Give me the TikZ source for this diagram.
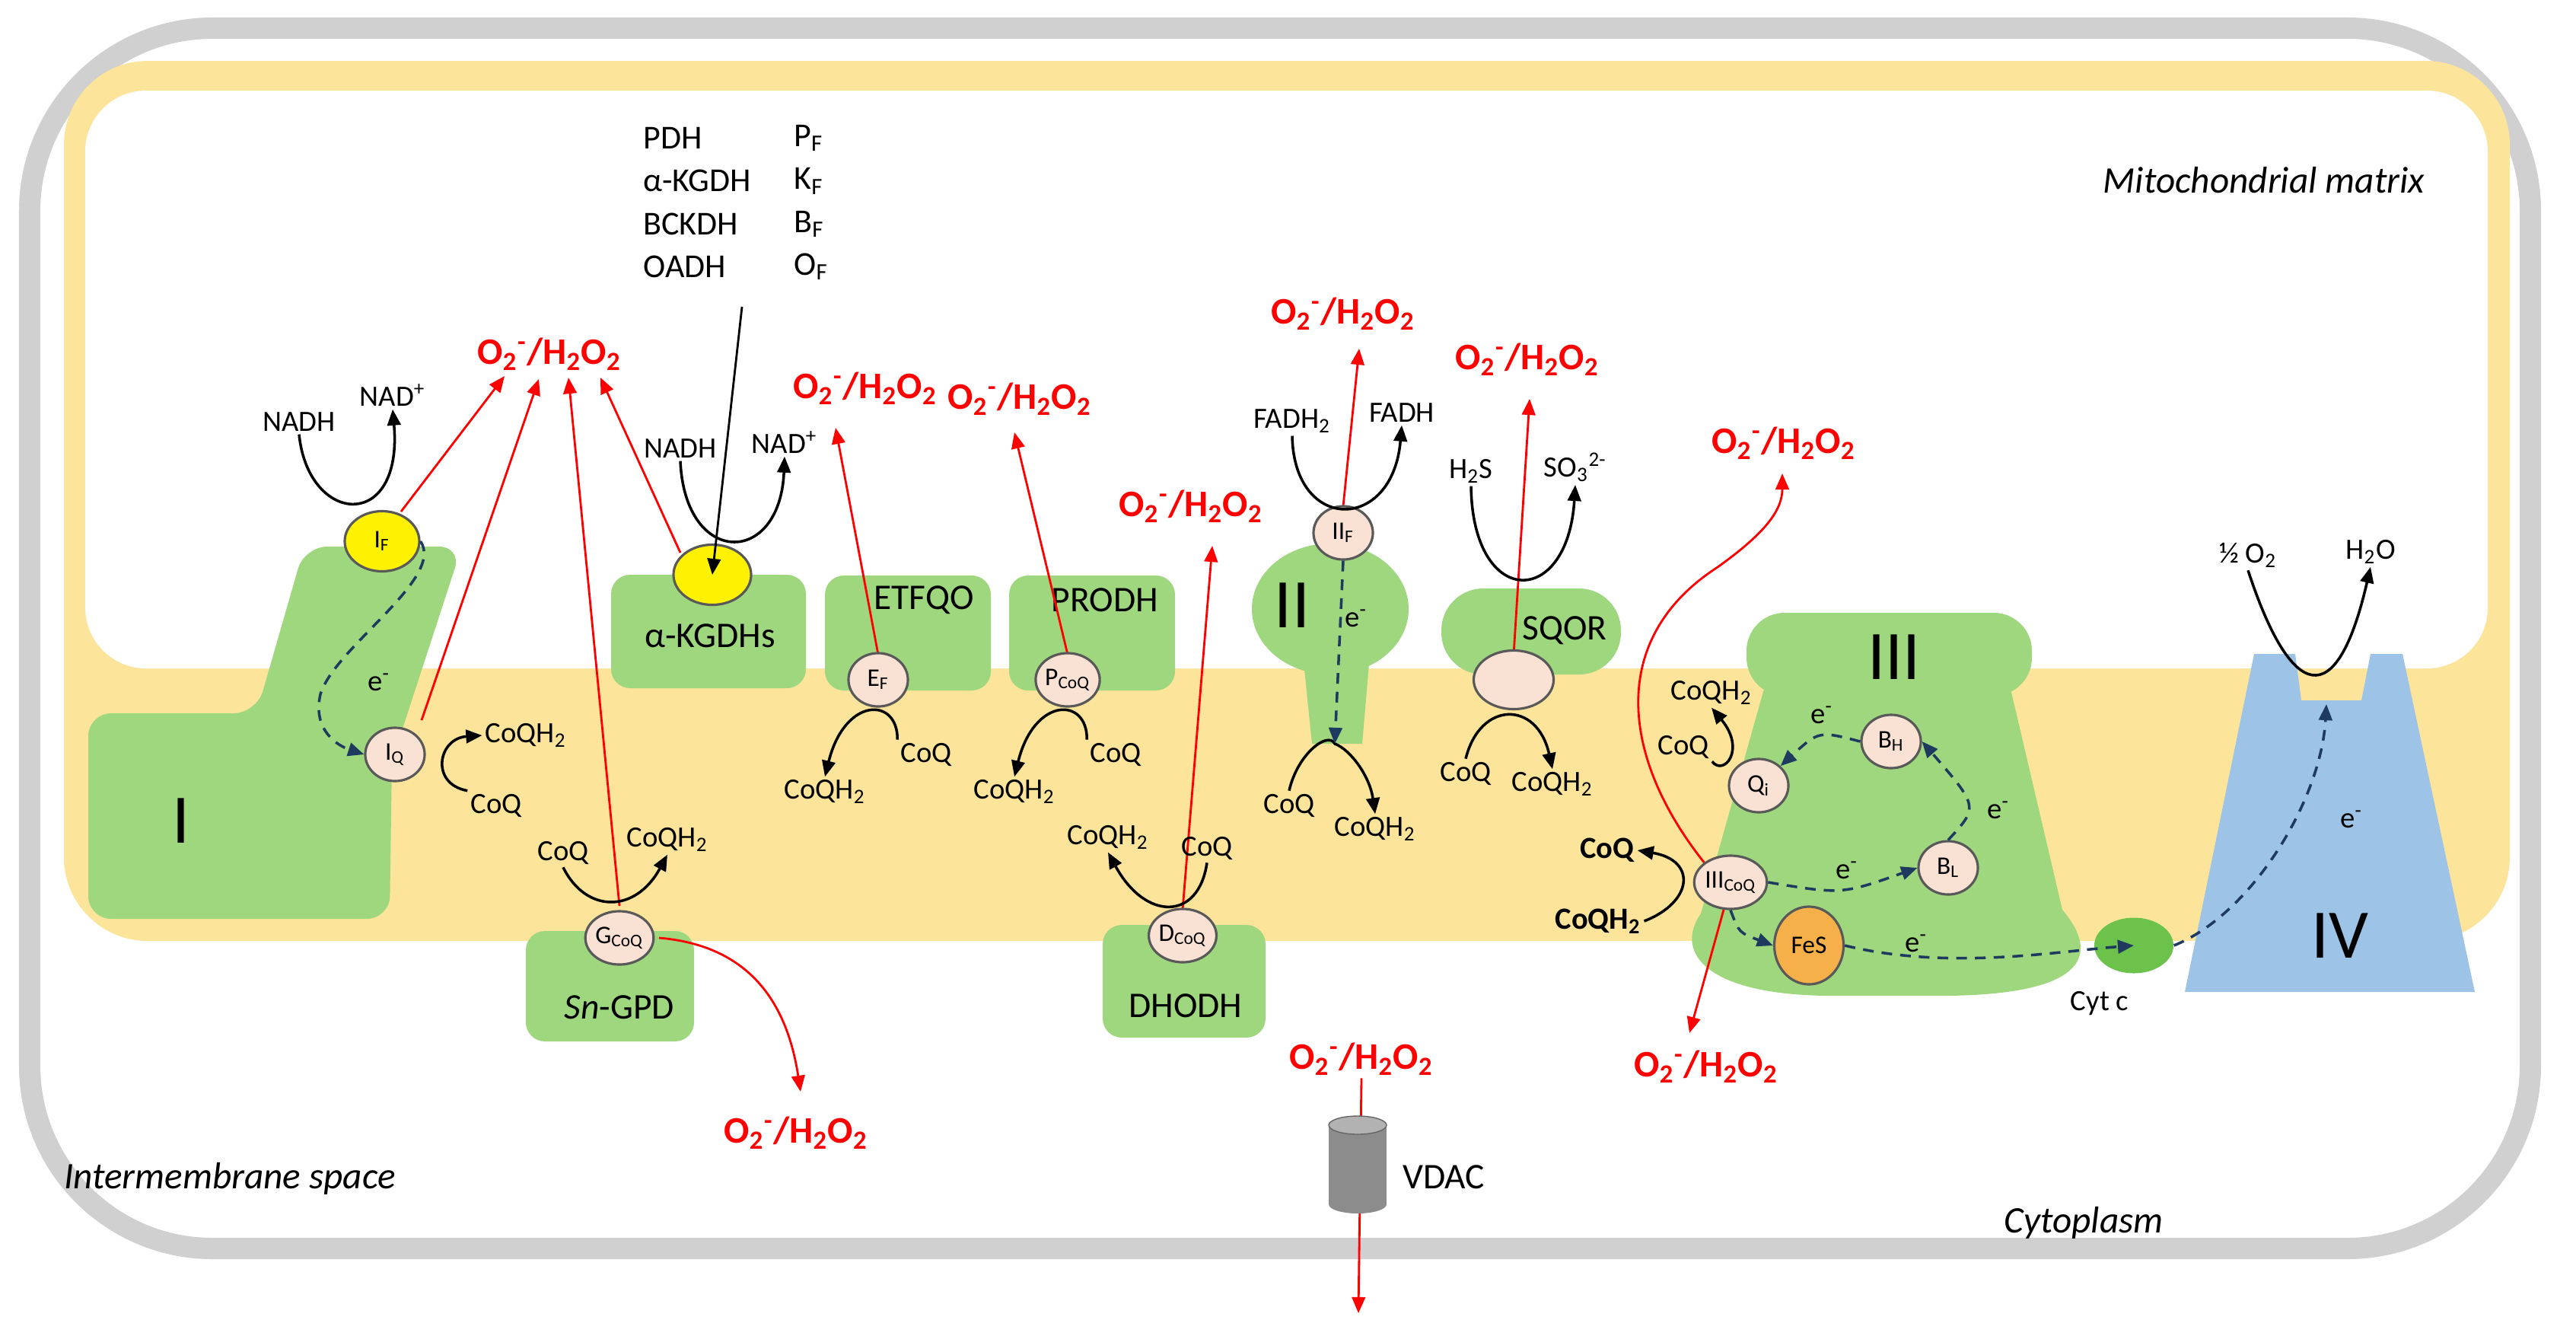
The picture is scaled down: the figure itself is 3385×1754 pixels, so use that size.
\documentclass[tikz,border=0pt]{standalone}
\usepackage{fontspec}
\setmainfont{Carlito}
\usetikzlibrary{shapes.geometric,arrows.meta,calc}
\definecolor{grn}{HTML}{9FD77F}
\definecolor{ylw}{HTML}{FDE49B}
\definecolor{gbrd}{HTML}{D0D0D0}
\definecolor{pnk}{HTML}{F9E1D3}
\definecolor{blu}{HTML}{9DC3E6}
\definecolor{org}{HTML}{F5B04A}
\definecolor{cyt}{HTML}{6DC24B}
\definecolor{dsh}{HTML}{1F3A5F}
\newcommand{\ros}{O\textsubscript{2}\textsuperscript{-}/H\textsubscript{2}O\textsubscript{2}}
\newcommand{\qh}{CoQH\textsubscript{2}}
\newcommand{\el}{e\textsuperscript{-}}
\begin{document}
\begin{tikzpicture}[x=0.01cm,y=-0.01cm,
 site/.style={ellipse,draw=black!65,fill=pnk,line width=0.9pt,minimum width=0.78cm,minimum height=0.7cm,inner sep=0pt,font=\fontsize{9.5}{10}\selectfont},
 ysite/.style={site,fill=yellow,minimum width=0.98cm,minimum height=0.79cm},
 lab/.style={font=\fontsize{11}{13}\selectfont,inner sep=1pt},
 blab/.style={font=\fontsize{11.5}{13}\selectfont\bfseries,inner sep=1pt},
 mid/.style={font=\fontsize{13.5}{15}\selectfont,inner sep=1pt},
 reg/.style={font=\fontsize{14}{16}\selectfont\itshape},
 num/.style={font=\fontsize{26}{28}\selectfont},
 rosn/.style={text=red,font=\fontsize{14}{16}\selectfont\bfseries,inner sep=1pt},
 barr/.style={line width=1pt,-{Triangle[length=6pt,width=5pt]}},
 rarr/.style={red,line width=0.8pt,-{Triangle[length=6pt,width=5pt]}},
 darr/.style={dsh,line width=1pt,dash pattern=on 4pt off 3pt,-{Triangle[length=6pt,width=5pt]}}]
\useasboundingbox (0,0) rectangle (3385,1754);
% compartments
\draw[gbrd,line width=0.28cm,rounded corners=2.4cm] (39,37) rectangle (3325,1640);
\fill[ylw,rounded corners=1.1cm] (84,80) rectangle (3298,1236);
\fill[white,rounded corners=0.8cm] (112,119) rectangle (3269,878);
\node[reg] (mm) at (2975,237) {Mitochondrial matrix};
\node[reg] (ims) at (302,1548) {Intermembrane space};
\node[reg] (cyto) at (2738,1606) {Cytoplasm};
% complex I
\fill[grn,rounded corners=0.3cm] (116,937) -- (337,937) -- (400,718) -- (607,718) -- (515,1000) -- (512,1207) -- (116,1207) -- cycle;
\node[num] (cI) at (238,1078) {I};
% alpha-KGDHs
\fill[grn,rounded corners=0.25cm] (803,755) rectangle (1059,904);
\node[mid] (akt) at (933,835) {α-KGDHs};
% ETFQO, PRODH
\fill[grn,rounded corners=0.25cm] (1084,756) rectangle (1302,907);
\node[mid] (etft) at (1214,788) {ETFQO};
\fill[grn,rounded corners=0.25cm] (1326,756) rectangle (1544,907);
\node[mid] (prot) at (1452,788) {PRODH};
% Sn-GPD, DHODH
\fill[grn,rounded corners=0.25cm] (691,1223) rectangle (912,1368);
\node[mid] (gpdt) at (814,1323) {\textit{Sn}-GPD};
\fill[grn,rounded corners=0.25cm] (1449,1215) rectangle (1663,1363);
\node[mid] (dhot) at (1558,1321) {DHODH};
% II
\fill[grn] (1748,800) ellipse (103 and 86);
\fill[grn] (1712,860) -- (1800,860) -- (1790,977) -- (1724,977) -- cycle;
\node[num] (cII) at (1698,795) {II};
% SQOR
\fill[grn,rounded corners=0.55cm] (1894,773) rectangle (2130,886);
\node[mid] (sqt) at (2056,828) {SQOR};
% III
\fill[grn,rounded corners=0.5cm] (2295,805) rectangle (2670,914);
\fill[grn] (2318,905) -- (2642,905) -- (2710,1195) .. controls (2765,1260) and (2730,1306) .. (2560,1308) -- (2400,1308) .. controls (2240,1306) and (2200,1250) .. (2235,1200) -- cycle;
\node[num] (cIII) at (2489,863) {III};
% IV
\fill[blu] (2962,859) -- (3016,859) -- (3024,920) -- (3103,920) -- (3115,859) -- (3157,859) -- (3252,1303) -- (2871,1303) -- cycle;
\node[num] (cIV) at (3075,1229) {IV};
\coordinate (notch) at (3057,925);
% Cyt c
\node[ellipse,fill=cyt,minimum width=1.04cm,minimum height=0.73cm] (cytc) at (2804,1242) {};
\node[lab] (cytt) at (2759,1318) {Cyt c};
% PDH list
\node[font=\fontsize{12.5}{14}\selectfont,anchor=west,align=left] (lst) at (833,266) {PDH\\[2pt] α-KGDH\\[2pt] BCKDH\\[2pt] OADH};
\node[font=\fontsize{12.5}{14}\selectfont,anchor=west,align=left] (lst2) at (1031,266) {P\textsubscript{F}\\[2pt] K\textsubscript{F}\\[2pt] B\textsubscript{F}\\[2pt] O\textsubscript{F}};
\coordinate (lstb) at (975,403);
% ROS labels
\node[rosn] (ros1) at (722,465) {\ros};
\node[rosn] (ros2) at (1137,510) {\ros};
\node[rosn] (ros3) at (1340,524) {\ros};
\node[rosn] (ros4) at (1565,665) {\ros};
\node[rosn] (ros5) at (1765,412) {\ros};
\node[rosn] (ros6) at (2007,472) {\ros};
\node[rosn] (ros7) at (2344,582) {\ros};
\node[rosn] (ros8) at (1046,1488) {\ros};
\node[rosn] (ros9) at (2242,1401) {\ros};
\node[rosn] (ros10) at (1789,1391) {\ros};
% red arrows (under sites)
\draw[rarr] (527,672) -- (663,494);
\draw[rarr] (554,946) -- (708,498);
\draw[rarr] (814,1190) -- (747,496);
\draw[rarr] (894,726) -- (789,496);
\draw[rarr] (1154,860) -- (1098,562);
\draw[rarr] (1403,860) -- (1333,568);
\draw[rarr] (1554,1195) -- (1593,717);
\draw[rarr] (1765,665) -- (1786,458);
\draw[rarr] (1989,860) -- (2010,524);
\draw[rarr] (2245,1140) .. controls (2130,1000) and (2110,840) .. (2257,745) .. controls (2320,700) and (2342,670) .. (2342,622);
\draw[rarr] (2265,1195) -- (2220,1357);
\draw[rarr] (866,1232) .. controls (960,1240) and (1030,1290) .. (1052,1434);
\draw[rarr] (ros10.south) -- (1785,1725);
% VDAC
\fill[black!45] (1746,1478) rectangle (1822,1582);
\fill[black!45] (1784,1582) ellipse (38 and 12);
\draw[black!60,fill=black!30] (1784,1478) ellipse (38 and 12);
\node[mid] (vdac) at (1897,1546) {VDAC};
% sites
\node[ysite] (IF) at (502,711) {I\textsubscript{F}};
\node[site] (IQ) at (519,991) {I\textsubscript{Q}};
\node[site] (GQ) at (814,1232) {G\textsubscript{CoQ}};
\node[ysite,minimum width=1.02cm] (AK) at (936,755) {};
\node[site] (EF) at (1154,893) {E\textsubscript{F}};
\node[site] (PQ) at (1403,893) {P\textsubscript{CoQ}};
\node[site] (DQ) at (1554,1229) {D\textsubscript{CoQ}};
\node[site] (IIF) at (1765,700) {II\textsubscript{F}};
\node[site,minimum width=1.05cm,minimum height=0.77cm] (SQ) at (1989,893) {};
\node[site] (Qi) at (2311,1032) {Q\textsubscript{i}};
\node[site] (BH) at (2485,974) {B\textsubscript{H}};
\node[site] (BL) at (2560,1140) {B\textsubscript{L}};
\node[site,minimum width=0.88cm] (IIIQ) at (2274,1159) {III\textsubscript{CoQ}};
\node[site,fill=org,minimum width=0.91cm,minimum height=1.02cm] (FeS) at (2377,1242) {FeS};
% black PDH arrow
\draw[barr,line width=0.8pt] (lstb) -- (AK.center);
% substrate labels
\node[lab] (nadh1) at (393,554) {NADH};
\node[lab] (nad1) at (516,519) {NAD\textsuperscript{+}};
\node[lab] (nadh2) at (894,589) {NADH};
\node[lab] (nad2) at (1031,581) {NAD\textsuperscript{+}};
\node[lab] (cqhI) at (691,966) {\qh};
\node[lab] (cqI) at (652,1058) {CoQ};
\node[lab] (cqG) at (740,1120) {CoQ};
\node[lab] (cqhG) at (877,1103) {\qh};
\node[lab] (cqE) at (1217,991) {CoQ};
\node[lab] (cqhE) at (1084,1040) {\qh};
\node[lab] (cqP) at (1466,991) {CoQ};
\node[lab] (cqhP) at (1333,1040) {\qh};
\node[lab] (cqhD) at (1456,1100) {\qh};
\node[lab] (cqD) at (1586,1114) {CoQ};
\node[lab] (fadh2) at (1698,553) {FADH\textsubscript{2}};
\node[lab] (fadh) at (1842,542) {FADH};
\node[lab] (cqII) at (1694,1058) {CoQ};
\node[lab] (cqhII) at (1807,1089) {\qh};
\node[lab] (h2s) at (1933,619) {H\textsubscript{2}S};
\node[lab] (so3) at (2070,614) {SO\textsubscript{3}\textsuperscript{2-}};
\node[lab] (cqS) at (1926,1016) {CoQ};
\node[lab] (cqhS) at (2040,1030) {\qh};
\node[lab] (cqhQi) at (2249,910) {\qh};
\node[lab] (cqQi) at (2212,981) {CoQ};
\node[blab] (cq3) at (2112,1117) {CoQ};
\node[blab] (cqh3) at (2100,1210) {\qh};
\node[lab] (o2) at (2954,729) {½ O\textsubscript{2}};
\node[lab] (h2o) at (3115,725) {H\textsubscript{2}O};
% electron labels
\node[lab] (e1) at (498,896) {\el};
\node[lab] (e2) at (1782,812) {\el};
\node[lab] (e3) at (2394,939) {\el};
\node[lab] (e4) at (2427,1143) {\el};
\node[lab] (e5) at (2626,1064) {\el};
\node[lab] (e6) at (2518,1239) {\el};
\node[lab] (e7) at (3090,1076) {\el};
% black reaction arcs
\draw[barr] (nadh1.south) .. controls (405,690) and (530,700) .. (nad1.south);
\draw[barr] (nadh2.south) .. controls (900,745) and (1025,745) .. (nad2.south);
\draw[barr] (cqI.north west) .. controls (565,1030) and (575,970) .. (cqhI.west);
\draw[barr] (cqG.south) .. controls (770,1200) and (835,1200) .. (cqhG.south);
\draw[barr] (cqE.north west) .. controls (1180,915) and (1110,915) .. (cqhE.north);
\draw[barr] (cqP.north west) .. controls (1429,915) and (1359,915) .. (cqhP.north);
\draw[barr] (cqD.south) .. controls (1575,1210) and (1505,1210) .. (cqhD.south);
\coordinate (IIa) at (1754,977);
\draw[barr] (cqII.north) .. controls (1705,990) and (1745,960) .. (IIa) .. controls (1775,985) and (1800,1020) .. (cqhII.north);
\draw[barr] (h2s.south) .. controls (1935,800) and (2060,800) .. (so3.south);
\draw[barr] (cqS.north) .. controls (1945,920) and (2020,920) .. (cqhS.north);
\draw[barr] (cqQi.south east) .. controls (2265,1020) and (2295,985) .. (cqhQi.south);
\draw[barr] (cqh3.east) .. controls (2225,1185) and (2230,1130) .. (cq3.east);
\draw[barr] (o2.south) .. controls (3010,920) and (3070,940) .. (h2o.south);
\draw[barr] (fadh2.south) .. controls (1700,700) and (1830,700) .. (fadh.south);
% electron transfer (dashed)
\draw[darr] (IF.east) .. controls (585,760) and (440,850) .. (421,912) .. controls (410,960) and (445,980) .. (IQ.west);
\draw[darr] (IIF.south) -- (IIa);
\draw[darr] (IIIQ.east) .. controls (2420,1175) .. (BL.west);
\draw[darr] (BL.north) .. controls (2600,1060) .. (BH.east);
\draw[darr] (BH.west) .. controls (2390,960) .. (Qi.north east);
\draw[darr] (IIIQ.south) .. controls (2285,1225) .. (FeS.west);
\draw[darr] (FeS.east) .. controls (2560,1275) and (2700,1250) .. (cytc.center);
\draw[darr] (cytc.east) .. controls (2960,1200) and (3050,1050) .. (notch);
\end{tikzpicture}
\end{document}
